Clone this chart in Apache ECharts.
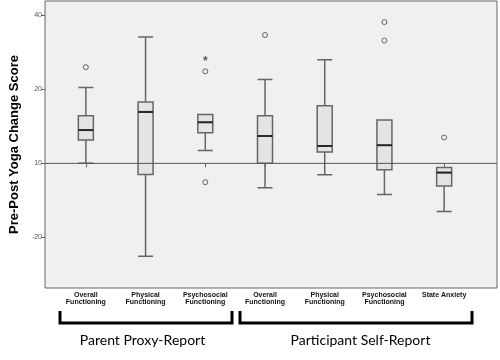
<!DOCTYPE html>
<html>
<head>
<meta charset="utf-8">
<script src="https://cdn.jsdelivr.net/npm/echarts@6/dist/echarts.min.js"></script>
<style>
  html, body { margin: 0; padding: 0; background: #fff; }
  #chart { width: 500px; height: 360px; }
</style>
</head>
<body>
<div id="chart"></div>
<script>
const categories = [
  "Overall\nFunctioning",
  "Physical\nFunctioning",
  "Psychosocial\nFunctioning",
  "Overall\nFunctioning",
  "Physical\nFunctioning",
  "Psychosocial\nFunctioning",
  "State Anxiety"
];

// [lower whisker, Q1, median, Q3, upper whisker]
const boxData = [
  [0, 6.3, 9.0, 12.9, 20.5],
  [-25.1, -3.0, 13.9, 16.6, 34.2],
  [3.5, 8.3, 11.1, 13.2, 13.2],
  [-6.6, 0, 7.4, 12.9, 22.7],
  [-3.1, 3.1, 4.7, 15.6, 28.0],
  [-8.4, -1.7, 4.9, 11.7, 11.7],
  [-13.0, -6.1, -2.5, -1.1, -1.1]
];

// [category index, value]
const outliers = [[0, 26.0], [2, 24.9], [2, -5.1], [3, 34.7], [5, 38.2], [5, 33.2], [6, 7.0]];
const extremes = [[2, 28.2]];

const yTicks = [-20, 0, 20, 40];
const yTickLabels = ["-20", "10", "20", "40"];
const referenceLine = [[0, 0], [1, 0]];
const groupNames = ["Parent Proxy-Report", "Participant Self-Report"];

const yMin = -33.7, yMax = 43.9;
const medians = boxData.map((b, i) => [i, b[2]]);

const chart = echarts.init(document.getElementById("chart"));

const option = {
  animation: false,
  grid: [
    { left: 33, right: 3, top: 1, bottom: 72, show: true, backgroundColor: "#f0f0f0", borderColor: "#666", borderWidth: 1 },
    { left: 56, right: 26, top: 1, bottom: 72 }
  ],
  xAxis: [
    { gridIndex: 0, type: "value", min: 0, max: 1, show: false },
    {
      gridIndex: 1,
      type: "category",
      data: categories,
      axisLine: { show: false },
      axisTick: { show: true, alignWithLabel: true, length: 4, lineStyle: { color: "#666" } },
      axisLabel: {
        interval: 0,
        fontFamily: "Liberation Sans",
        fontSize: 7,
        fontWeight: "bold",
        color: "#111",
        lineHeight: 7,
        margin: 4
      }
    }
  ],
  yAxis: [
    {
      gridIndex: 0,
      type: "value",
      min: yMin,
      max: yMax,
      axisLine: { show: false },
      splitLine: { show: false },
      axisTick: { show: true, length: 4, customValues: yTicks, lineStyle: { color: "#666" } },
      axisLabel: {
        customValues: yTicks,
        formatter: v => yTickLabels[yTicks.indexOf(v)],
        fontFamily: "Liberation Sans",
        fontSize: 7,
        color: "#555",
        margin: 3
      },
      name: "Pre-Post Yoga Change Score",
      nameLocation: "middle",
      nameGap: 13,
      nameTextStyle: { fontFamily: "Liberation Sans", fontSize: 13, fontWeight: "bold", color: "#000" }
    },
    { gridIndex: 1, type: "value", min: yMin, max: yMax, show: false }
  ],
  series: [
    {
      type: "boxplot",
      xAxisIndex: 1,
      yAxisIndex: 1,
      data: boxData,
      boxWidth: [15, 15],
      itemStyle: { color: "#e4e4e4", borderColor: "#666", borderWidth: 1.5 },
      z: 3
    },
    {
      type: "scatter",
      xAxisIndex: 1,
      yAxisIndex: 1,
      data: medians,
      symbol: "rect",
      symbolSize: [15, 2],
      itemStyle: { color: "#111" },
      z: 4
    },
    {
      type: "scatter",
      xAxisIndex: 1,
      yAxisIndex: 1,
      data: outliers,
      symbol: "circle",
      symbolSize: 5,
      itemStyle: { color: "#f0f0f0", borderColor: "#444", borderWidth: 1 },
      z: 4
    },
    {
      type: "scatter",
      xAxisIndex: 1,
      yAxisIndex: 1,
      data: extremes,
      symbol: "circle",
      symbolSize: 2,
      itemStyle: { color: "rgba(0,0,0,0)" },
      label: {
        show: true,
        position: "inside",
        formatter: "*",
        fontFamily: "Liberation Sans",
        fontSize: 12,
        fontWeight: "bold",
        color: "#333",
        offset: [0, 3]
      },
      z: 4
    },
    {
      type: "line",
      xAxisIndex: 0,
      yAxisIndex: 0,
      data: referenceLine,
      symbol: "none",
      lineStyle: { color: "#555", width: 1 },
      z: 5
    }
  ],
  graphic: [
    { type: "polyline", shape: { points: [[60, 311], [60, 323], [232, 323], [232, 311]] }, style: { stroke: "#000", lineWidth: 3, fill: null } },
    { type: "polyline", shape: { points: [[240, 311], [240, 323], [472, 323], [472, 311]] }, style: { stroke: "#000", lineWidth: 3, fill: null } },
    { type: "text", x: 142.5, y: 340, style: { text: groupNames[0], font: "14px Lato", fill: "#000", align: "center", verticalAlign: "middle" } },
    { type: "text", x: 360.5, y: 340, style: { text: groupNames[1], font: "14px Lato", fill: "#000", align: "center", verticalAlign: "middle" } }
  ]
};

chart.setOption(option);
</script>
</body>
</html>
